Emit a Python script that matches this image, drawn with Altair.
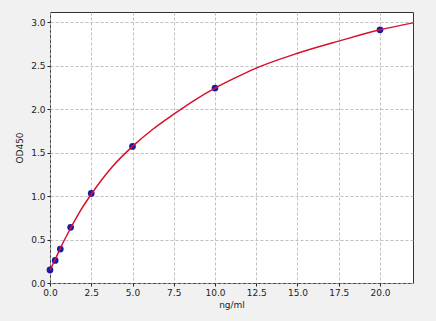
import altair as alt
import pandas as pd

conc = [0, 0.3125, 0.625, 1.25, 2.5, 5, 10, 20]
od = [0.15, 0.26, 0.39, 0.64, 1.03, 1.57, 2.24, 2.91]

curve_x = [0, 0.3125, 0.625, 1.25, 1.875, 2.5, 3.75, 5, 6.25, 7.5, 8.75, 10, 11.25, 12.5, 15, 17.5, 20, 22]
curve_y = [0.15, 0.27, 0.40, 0.63, 0.84, 1.02, 1.33, 1.57, 1.77, 1.94, 2.10, 2.24, 2.36, 2.47, 2.64, 2.78, 2.91, 2.99]

pts = pd.DataFrame({"x": conc, "y": od})
crv = pd.DataFrame({"x": curve_x, "y": curve_y})

xs = alt.Scale(domain=[0, 22], nice=False, zero=False)
ys = alt.Scale(domain=[0, 3.115], nice=False, zero=False)

xax = alt.Axis(values=[0, 2.5, 5, 7.5, 10, 12.5, 15, 17.5, 20], format=".1f", title="ng/ml",
               grid=True, gridDash=[3, 2], gridColor="#b0b0b0", gridWidth=0.8,
               labelFont="DejaVu Sans", labelFontSize=9, labelColor="#222", labelFlush=False,
               titleFont="DejaVu Sans", titleFontSize=9, titleFontWeight="normal", titleColor="#222",
               tickColor="#222", tickSize=3, domain=False, titlePadding=3, labelPadding=2)
yax = alt.Axis(values=[0, 0.5, 1, 1.5, 2, 2.5, 3], format=".1f", title="OD450",
               grid=True, gridDash=[3, 2], gridColor="#b0b0b0", gridWidth=0.8,
               labelFont="DejaVu Sans", labelFontSize=9, labelColor="#222", labelFlush=False,
               titleFont="DejaVu Sans", titleFontSize=9, titleFontWeight="normal", titleColor="#222",
               tickColor="#222", tickSize=3, domain=False, titlePadding=6, labelPadding=2)

line = alt.Chart(crv).mark_line(color="#d8102a", strokeWidth=1.5, interpolate="monotone").encode(
    x=alt.X("x:Q", scale=xs, axis=xax),
    y=alt.Y("y:Q", scale=ys, axis=yax),
)
points = alt.Chart(pts).mark_circle(color="#1a1aa8", size=45, opacity=1).encode(
    x=alt.X("x:Q", scale=xs),
    y=alt.Y("y:Q", scale=ys),
)

chart = alt.layer(points, line).properties(
    width=363, height=271,
    autosize=alt.AutoSizeParams(type="none"),
    padding={"left": 50, "top": 12, "right": 23, "bottom": 38},
    background="#f1f1f1",
).configure_view(fill="white", stroke="#333", strokeWidth=1)

chart.save("out.html", embed_options={"renderer": "svg", "actions": False})
